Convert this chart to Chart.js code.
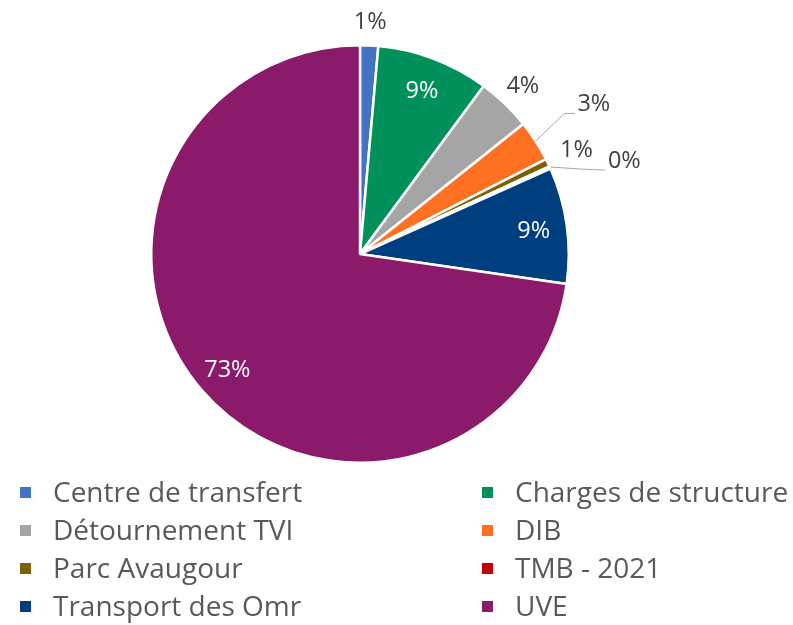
<!DOCTYPE html>
<html>
<head>
<meta charset="utf-8">
<script src="https://cdn.jsdelivr.net/npm/chart.js@4"></script>
<style>
  html, body { margin: 0; padding: 0; background: #fff; }
  #wrap { width: 793px; height: 625px; position: relative; }
</style>
</head>
<body>
<div id="wrap"><canvas id="pie"></canvas></div>
<script>
// categories and values (share of total, %)
const categories = ['Centre de transfert', 'Charges de structure', 'Détournement TVI', 'DIB',
    'Parc Avaugour', 'TMB - 2021', 'Transport des Omr', 'UVE'];
const values = [1.4, 8.7, 4.2, 3.2, 0.6, 0.2, 9.0, 72.7];
const colors = ['#4472c4', '#00915a', '#a5a5a5', '#ff7020', '#7f6000', '#c00000', '#003f7f', '#8b1a6b'];

const FONT = '"Open Sans", Lato, sans-serif';

// where each percentage label goes
const placement = [
    { kind: 'out', off: 24 },
    { kind: 'in' },
    { kind: 'out', off: 26 },
    { kind: 'leader', pts: [[28, -27], [38, -27]] },
    { kind: 'out', off: 32 },
    { kind: 'leader', pts: [[30, 2], [54, 3]] },
    { kind: 'in' },
    { kind: 'in' }
];

const pctLabels = {
    id: 'pctLabels',
    afterDatasetsDraw(chart) {
        const ctx = chart.ctx;
        const meta = chart.getDatasetMeta(0);
        const total = values.reduce((a, b) => a + b, 0);
        ctx.save();
        ctx.font = '23.5px ' + FONT;
        ctx.textBaseline = 'alphabetic';
        meta.data.forEach((arc, i) => {
            const p = arc.getProps(['x', 'y', 'startAngle', 'endAngle', 'outerRadius'], true);
            const mid = (p.startAngle + p.endAngle) / 2;
            const txt = Math.round(values[i] / total * 100) + '%';
            const pl = placement[i];
            if (pl.kind === 'in') {
                const r = p.outerRadius * 0.84;
                ctx.fillStyle = '#ffffff';
                ctx.textAlign = 'center';
                ctx.fillText(txt, p.x + Math.cos(mid) * r, p.y + Math.sin(mid) * r + 8);
            } else if (pl.kind === 'out') {
                const r = p.outerRadius + pl.off;
                ctx.fillStyle = '#404040';
                ctx.textAlign = 'center';
                ctx.fillText(txt, p.x + Math.cos(mid) * r, p.y + Math.sin(mid) * r + 8);
            } else {
                const ex = p.x + Math.cos(mid) * (p.outerRadius + 1);
                const ey = p.y + Math.sin(mid) * (p.outerRadius + 1);
                ctx.strokeStyle = '#a6a6a6';
                ctx.lineWidth = 1;
                ctx.beginPath();
                ctx.moveTo(ex, ey);
                pl.pts.forEach(q => ctx.lineTo(ex + q[0], ey + q[1]));
                ctx.stroke();
                const last = pl.pts[pl.pts.length - 1];
                ctx.fillStyle = '#404040';
                ctx.textAlign = 'left';
                ctx.fillText(txt, ex + last[0] + 3, ey + last[1] - 2);
            }
        });
        ctx.restore();
    }
};

// two-column legend under the pie
const gridLegend = {
    id: 'gridLegend',
    afterDraw(chart) {
        const ctx = chart.ctx;
        const cols = [20, 482];
        const top = 492, step = 38;
        ctx.save();
        ctx.font = '28px ' + FONT;
        ctx.textBaseline = 'alphabetic';
        ctx.textAlign = 'left';
        categories.forEach((c, i) => {
            const x = cols[i % 2];
            const y = top + Math.floor(i / 2) * step;
            ctx.fillStyle = colors[i];
            ctx.fillRect(x, y - 5, 11, 11);
            ctx.fillStyle = '#595959';
            ctx.fillText(c, x + 33, y + 10);
        });
        ctx.restore();
    }
};

new Chart(document.getElementById('pie'), {
    type: 'pie',
    data: {
        labels: categories,
        datasets: [{
            data: values,
            backgroundColor: colors,
            borderColor: '#ffffff',
            borderWidth: 2.5
        }]
    },
    options: {
        responsive: true,
        maintainAspectRatio: false,
        animation: false,
        layout: { padding: { top: 44, bottom: 161, left: 150, right: 223 } },
        plugins: {
            legend: { display: false },
            tooltip: { enabled: false }
        }
    },
    plugins: [pctLabels, gridLegend]
});
</script>
</body>
</html>
